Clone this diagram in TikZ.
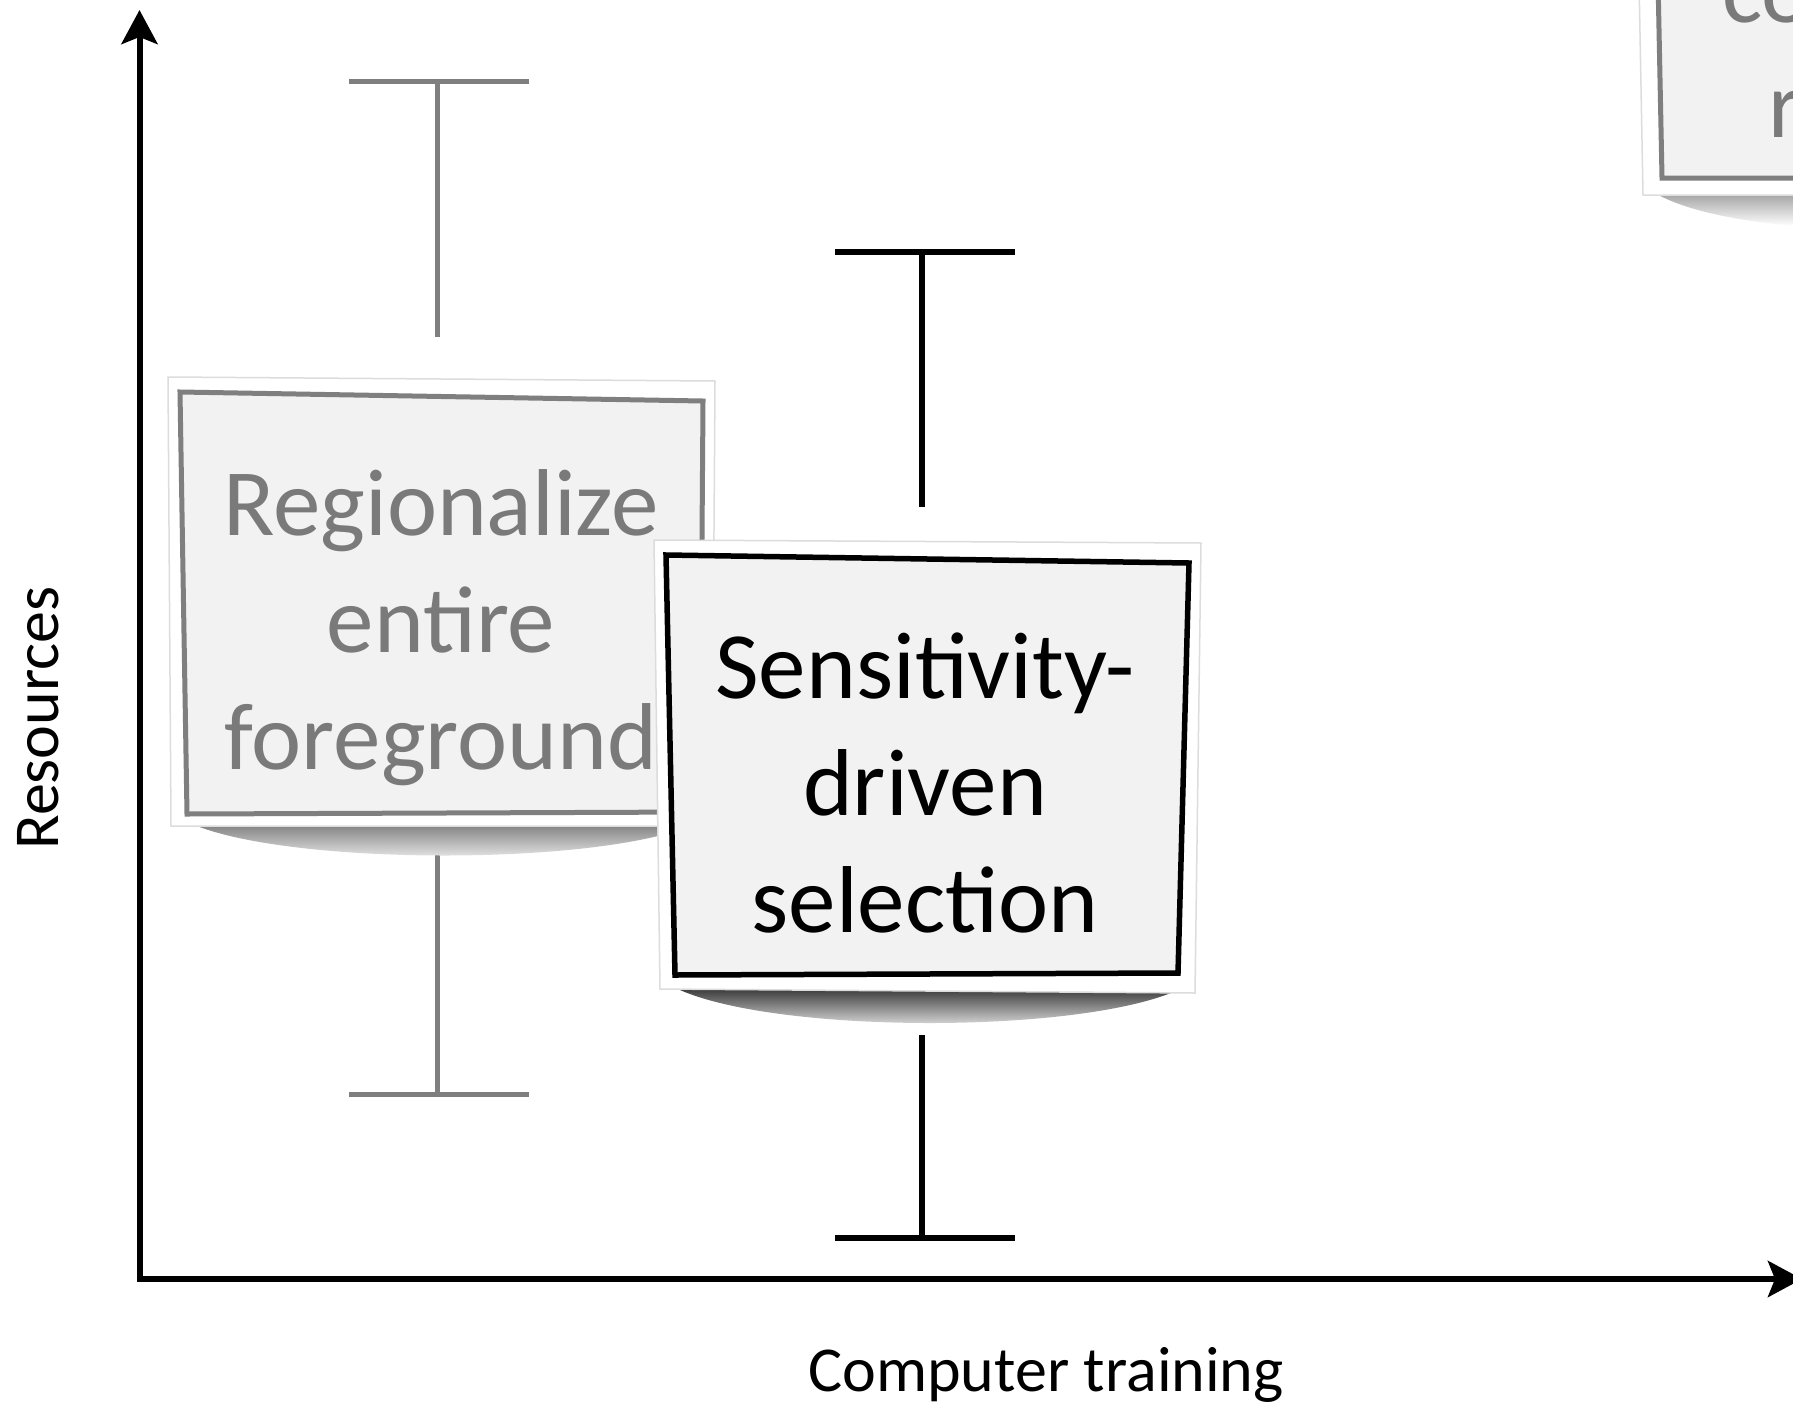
\documentclass[tikz,border=0pt]{standalone}
\usepackage{fontspec}
\setmainfont{Carlito}
\usetikzlibrary{arrows.meta}
\definecolor{bargrey}{HTML}{7F7F7F}
\definecolor{txtgrey}{HTML}{7A7A7A}
\definecolor{paper}{HTML}{F2F2F2}
\definecolor{frameedge}{HTML}{DCDCDC}
\begin{document}
\begin{tikzpicture}[x=1pt,y=-1pt,
  axis/.style={line width=6pt,{Stealth[length=34pt,width=36pt,inset=7pt]}-{Stealth[length=34pt,width=36pt,inset=7pt]}},
  greybar/.style={line width=5pt,draw=bargrey},
  blackbar/.style={line width=5.5pt,draw=black},
  outerframe/.style={fill=white,draw=frameedge,line width=1.5pt},
  greyinner/.style={fill=paper,draw=bargrey,line width=5pt},
  blackinner/.style={fill=paper,draw=black,line width=5.5pt},
  boxtext/.style={align=center,inner sep=0pt,font=\fontsize{95}{117}\selectfont},
  axislabel/.style={inner sep=0pt,font=\fontsize{64}{77}\selectfont}]
\clip (0,0) rectangle (1793,1408);
\fill[white] (0,0) rectangle (1793,1408);

% axes
\coordinate (ytop) at (139.5,10);
\coordinate (O) at (139.5,1279);
\coordinate (xend) at (1802,1279);
\draw[axis] (ytop) -- (O) -- (xend);
\node[axislabel,rotate=90,anchor=base] (ylab) at (58,718) {Resources};
\node[axislabel,anchor=base] (xlab) at (1046,1391) {Computer training};

% grey error bar
\coordinate (g1l) at (349,81);  \coordinate (g1r) at (529,81);
\coordinate (g1t) at (437,81);  \coordinate (g1b) at (437,337);
\coordinate (g2t) at (437,840); \coordinate (g2b) at (437,1094);
\coordinate (g2l) at (349,1094);\coordinate (g2r) at (529,1094);
\draw[greybar] (g1l) -- (g1r) (g1t) -- (g1b) (g2t) -- (g2b) (g2l) -- (g2r);

% black error bar
\coordinate (k1l) at (835,252);  \coordinate (k1r) at (1015,252);
\coordinate (k1t) at (922,252);  \coordinate (k1b) at (922,507);
\coordinate (k2t) at (922,1035); \coordinate (k2b) at (922,1238);
\coordinate (k2l) at (835,1238); \coordinate (k2r) at (1015,1238);
\draw[blackbar] (k1l) -- (k1r) (k1t) -- (k1b) (k2t) -- (k2b) (k2l) -- (k2r);

% box 3 (top right, cut off)
\shade[top color=black!40,bottom color=white] (1650,190) -- (1800,190) -- (1800,226) .. controls (1740,222) and (1680,210) .. (1650,190) -- cycle;
\draw[outerframe] (1639,-20) -- (1820,-20) -- (1820,195) -- (1643,195) -- cycle;
\draw[greyinner] (1658,-20) -- (1820,-20) -- (1820,178) -- (1662,178) -- cycle;
\node[boxtext,text=txtgrey,anchor=base west] (t3a) at (1722,22) {co};
\node[boxtext,text=txtgrey,anchor=base west] (t3b) at (1768,137) {r};

% box 1
\shade[top color=black!50,bottom color=white] (192,824) -- (695,824) .. controls (600,866) and (290,866) .. (192,824) -- cycle;
\draw[outerframe] (168,377) -- (715,381) -- (712,826) -- (171,826) -- cycle;
\draw[greyinner] (180,392) -- (703,401) -- (700,812) -- (187,814) -- cycle;
\node[boxtext,text=txtgrey] (t1) at (441,628) {Regionalize\\entire\\foreground};

% box 2
\shade[top color=black!75,bottom color=white] (680,990) -- (1178,990) .. controls (1080,1034) and (780,1034) .. (680,990) -- cycle;
\draw[outerframe] (654,540) -- (1201,543) -- (1195,993) -- (660,989) -- cycle;
\draw[blackinner] (666,555) -- (1189,563) -- (1178,973) -- (675,975) -- cycle;
\node[boxtext,text=black] (t2) at (925,783) {Sensitivity-\\driven\\selection};
\end{tikzpicture}
\end{document}
